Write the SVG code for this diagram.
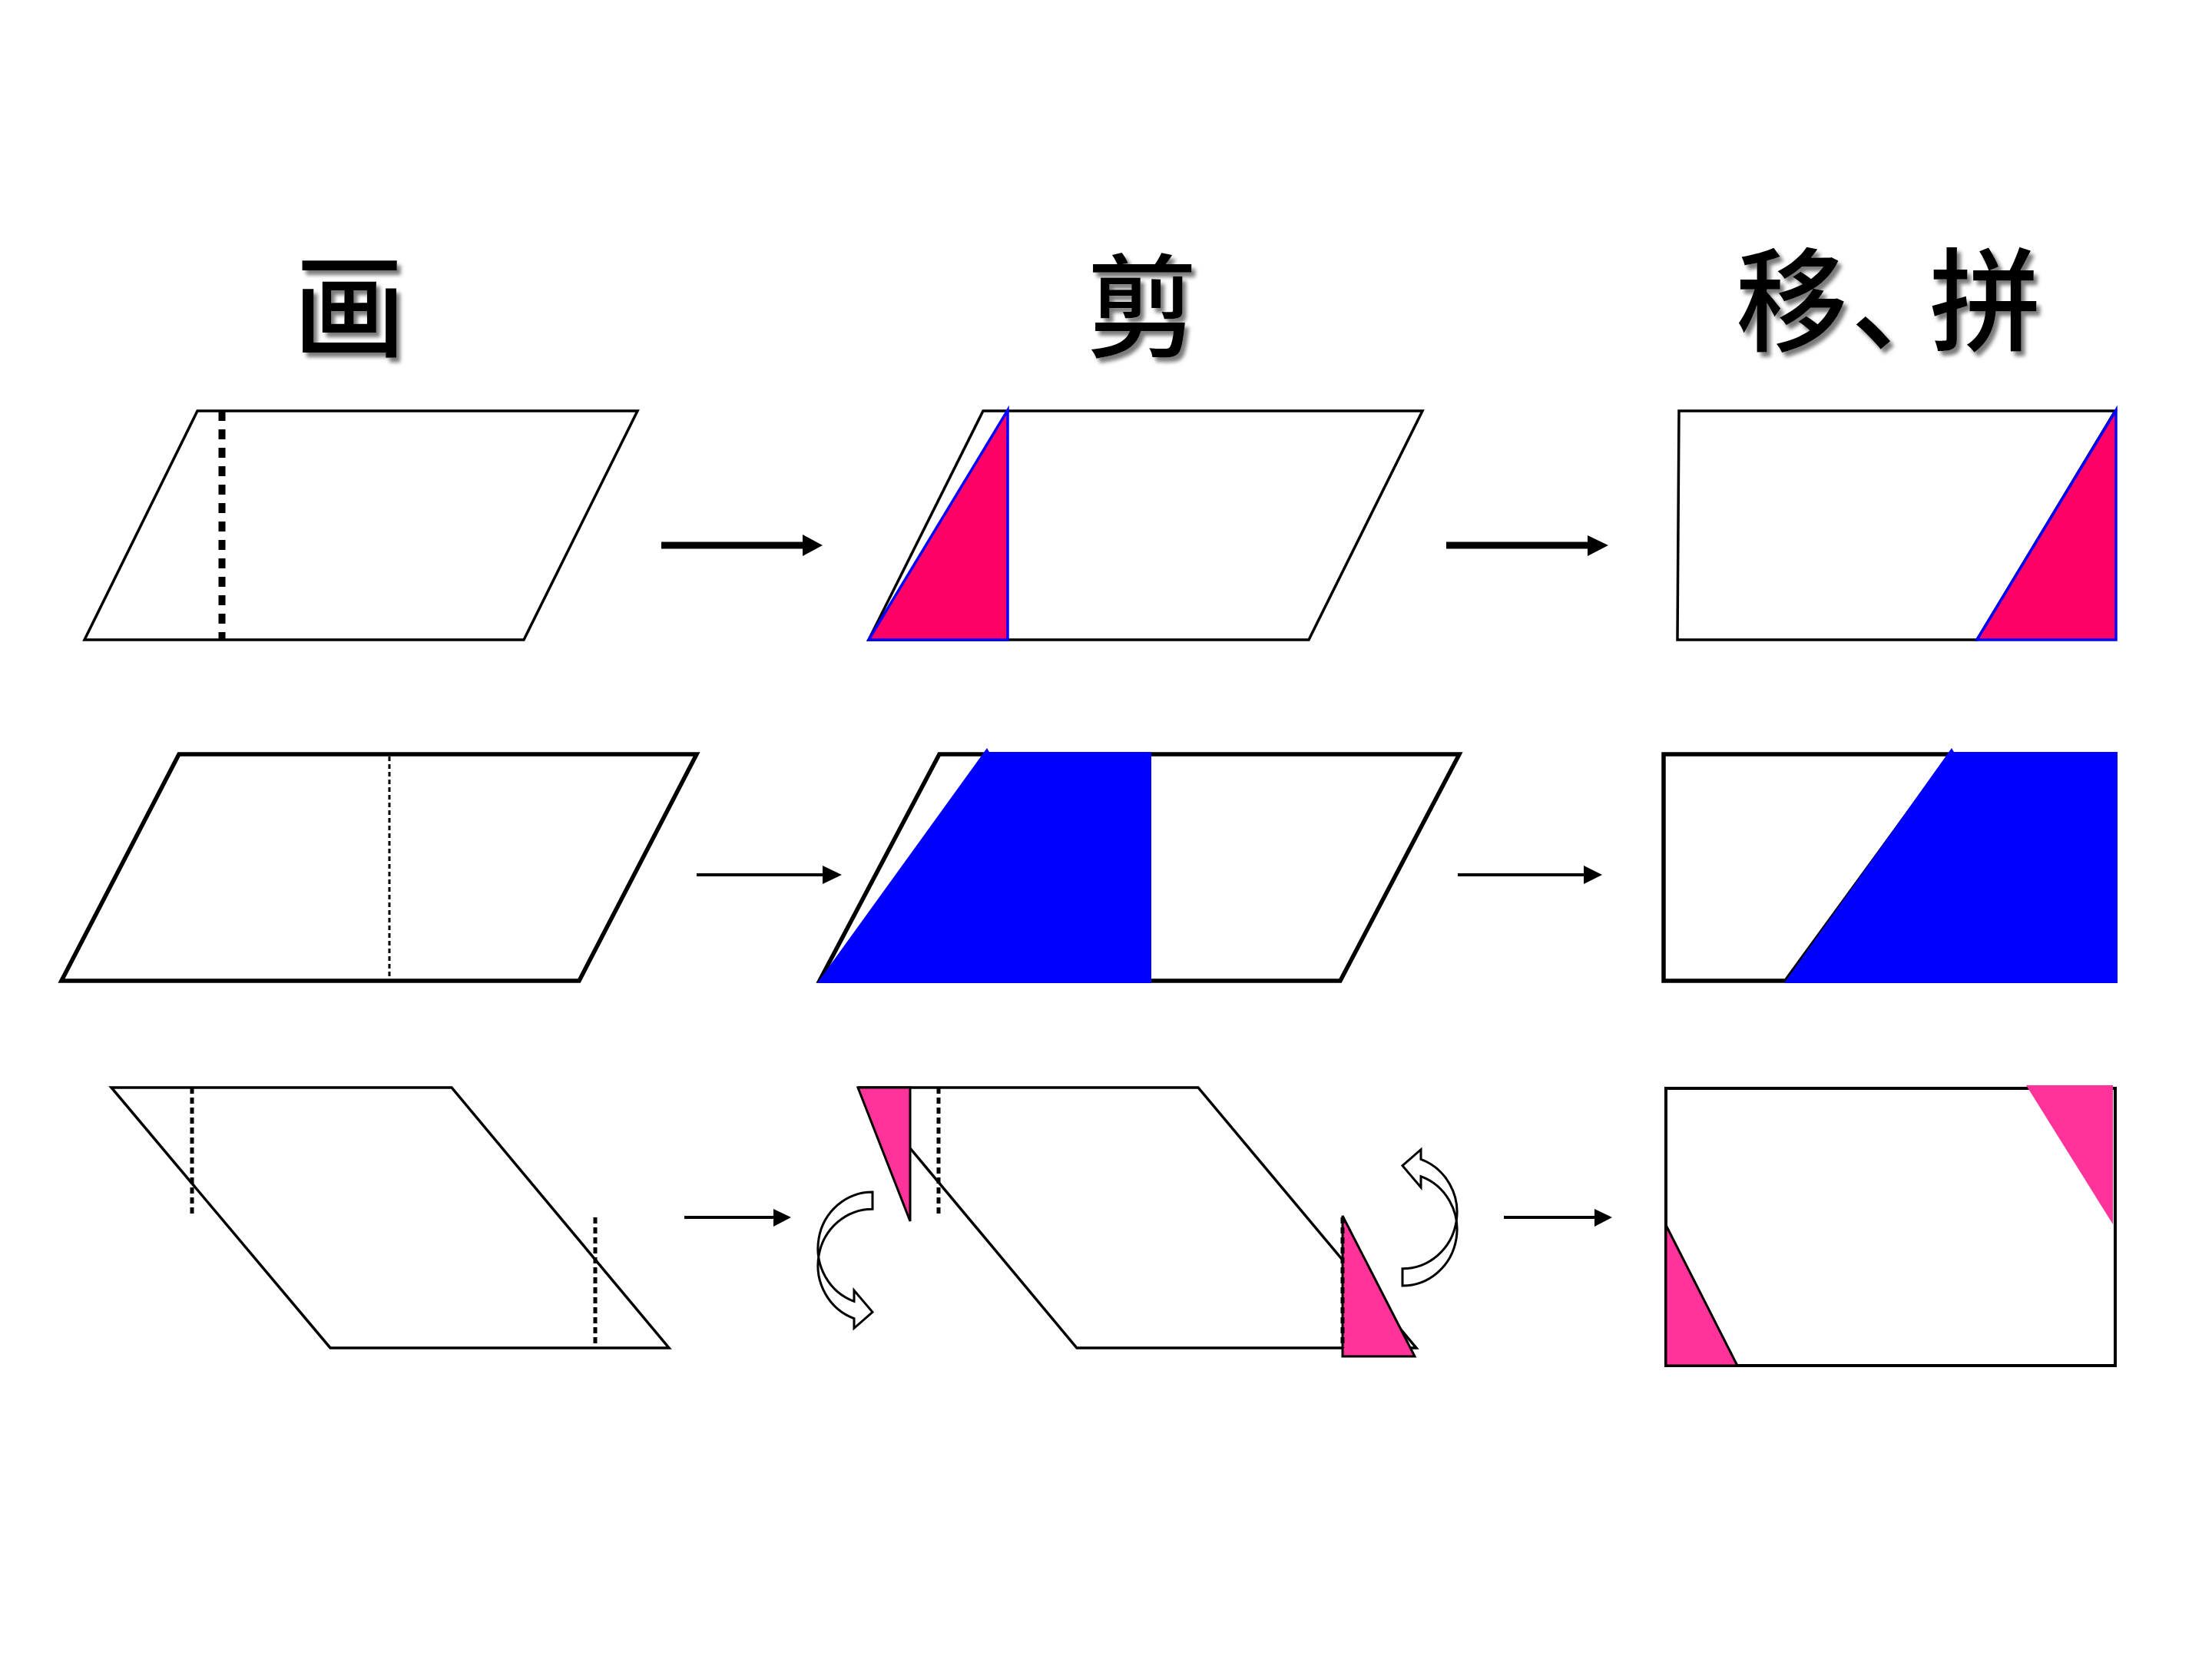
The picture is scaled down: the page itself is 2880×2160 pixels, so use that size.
<svg xmlns="http://www.w3.org/2000/svg" width="2880" height="2160" viewBox="0 0 2880 2160">
<defs>
<style>
.title{font-family:"Noto Sans CJK SC","Noto Sans CJK JP",sans-serif;font-weight:500;font-size:146px;fill:#000;filter:url(#sh)}
.ol1{fill:#fff;stroke:#000;stroke-width:3.5;stroke-linejoin:miter}
.ol2{fill:#fff;stroke:#000;stroke-width:5.5;stroke-linejoin:miter}
.ol3{fill:#fff;stroke:#000;stroke-width:3.5;stroke-linejoin:miter}
.red{fill:#FF0066;stroke:#0000FF;stroke-width:3.5}
.blue{fill:#0000FF;stroke:none}
.pink{fill:#FF3399;stroke:#000;stroke-width:3}
.pinkns{fill:#FF3399;stroke:none}
.dash1{stroke:#000;stroke-width:9;stroke-dasharray:13 11;fill:none}
.dash2{stroke:#000;stroke-width:3;stroke-dasharray:6 4;fill:none}
.dash3{stroke:#000;stroke-width:5;stroke-dasharray:8 5;fill:none}
.curv{fill:#fff;stroke:#000;stroke-width:3;stroke-linejoin:miter}
</style>
<filter id="sh" x="-20%" y="-20%" width="150%" height="150%">
<feDropShadow dx="5" dy="6" stdDeviation="2.5" flood-color="#7a7a7a" flood-opacity="1"/>
</filter>
</defs>
<rect width="2880" height="2160" fill="#fff"/>

<g id="titles">
<text id="t-draw" class="title" x="455" y="453" text-anchor="middle">画</text>
<text id="t-cut" class="title" x="1487" y="453" text-anchor="middle">剪</text>
<text id="t-move" class="title" x="2260 2410 2512" y="445">移、拼</text>
</g>

<g id="r1-draw">
<polygon class="ol1" points="257,535 830,535 682,833 110,833"/>
<line class="dash1" x1="289" y1="535" x2="289" y2="833"/>
</g>
<g id="r1-cut">
<polygon class="ol1" points="1280,535 1852,535 1704,833 1131,833"/>
<polygon class="red" points="1131,833 1312,534 1312,833"/>
</g>
<g id="r1-move">
<polygon class="ol1" points="2186,535 2754,535 2574,833 2184,833"/>
<polygon class="red" points="2574,833 2755,534 2755,833"/>
</g>

<g id="r2-draw">
<polygon class="ol2" points="233,982 907,982 754,1277 80,1277"/>
<line class="dash2" x1="507" y1="985" x2="507" y2="1271"/>
</g>
<g id="r2-cut">
<polygon class="ol2" points="1223,982 1900,982 1745,1277 1067,1277"/>
<polygon class="blue" points="1064,1280 1285,974 1288,979 1499,979 1499,1280"/>
</g>
<g id="r2-move">
<polygon class="ol2" points="2166,982 2540,982 2325,1277 2166,1277"/>
<polygon class="blue" points="2323,1280 2541,974 2544,979 2757,979 2757,1280"/>
</g>

<g id="r3-draw">
<polygon class="ol3" points="145,1416 588,1416 871,1755 430,1755"/>
<line class="dash3" x1="250" y1="1416" x2="250" y2="1585"/>
<line class="dash3" x1="775" y1="1585" x2="775" y2="1755"/>
</g>
<g id="r3-cut">
<path class="ol3" d="M1185,1495 L1402,1755 L1844,1755 L1560,1416 L1117,1416"/>
<line class="dash3" x1="1222" y1="1416" x2="1222" y2="1585"/>
<polygon class="pink" points="1117,1416 1185,1416 1185,1590"/>
<polygon class="pink" points="1748,1583 1748,1766 1842,1766"/>
<line class="dash3" x1="1748" y1="1585" x2="1748" y2="1755"/>
<path id="curv-left" class="curv" d="M1136,1552 A71,73.3 0 0 0 1112,1694.3 L1112,1680 L1136,1708.3 L1112,1729.3 L1112,1716.6 A71,73.3 0 0 1 1136,1574.3 Z"/>
<path id="curv-right" class="curv" transform="translate(2962,3226) rotate(180)" d="M1136,1552 A71,73.3 0 0 0 1112,1694.3 L1112,1680 L1136,1708.3 L1112,1729.3 L1112,1716.6 A71,73.3 0 0 1 1136,1574.3 Z"/>
</g>
<g id="r3-move">
<rect class="ol3" x="2169" y="1417" width="585" height="361" style="stroke-width:4"/>
<polygon class="pinkns" points="2638,1413 2751,1413 2751,1594"/>
<polygon class="pink" points="2169,1595 2169,1778 2262,1778"/>
</g>

<g id="connectors">
<line x1="861" y1="710" x2="1047" y2="710" stroke="#000" stroke-width="9"/>
<polygon points="1045,696 1071,710 1045,724" fill="#000"/>
<line x1="1883" y1="710" x2="2069" y2="710" stroke="#000" stroke-width="9"/>
<polygon points="2067,697 2094,710 2067,724" fill="#000"/>
<line x1="907" y1="1139" x2="1073" y2="1139" stroke="#000" stroke-width="4"/>
<polygon points="1071,1127 1096,1139 1071,1151" fill="#000"/>
<line x1="1898" y1="1139" x2="2064" y2="1139" stroke="#000" stroke-width="4"/>
<polygon points="2062,1127 2086,1139 2062,1151" fill="#000"/>
<line x1="891" y1="1585" x2="1009" y2="1585" stroke="#000" stroke-width="4"/>
<polygon points="1007,1574 1030,1585 1007,1597" fill="#000"/>
<line x1="1958" y1="1585" x2="2078" y2="1585" stroke="#000" stroke-width="4"/>
<polygon points="2076,1574 2099,1585 2076,1597" fill="#000"/>
</g>
</svg>
